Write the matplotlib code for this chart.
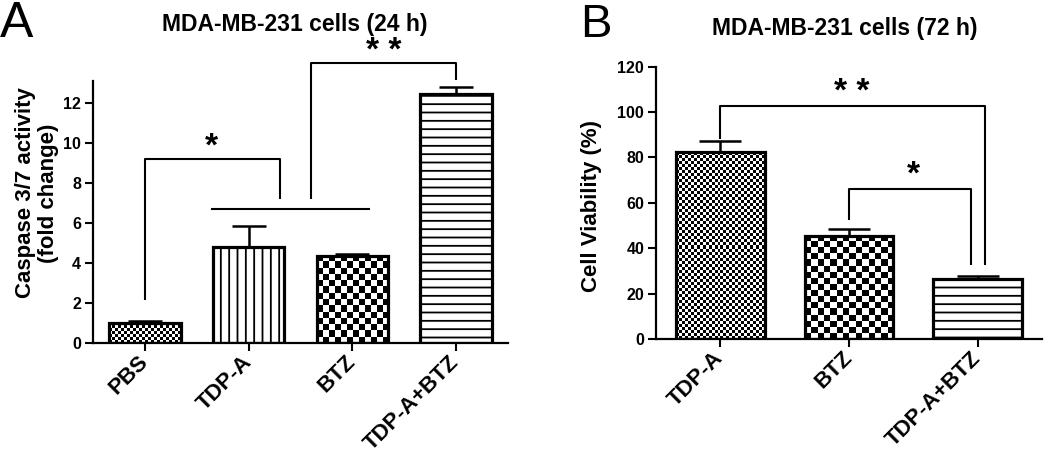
import numpy as np
import matplotlib
matplotlib.use("Agg")
import matplotlib.pyplot as plt

# Panel A - caspase 3/7 activity after 24 h
groups_a = ["PBS", "TDP-A", "BTZ", "TDP-A+BTZ"]
caspase = [1.0, 4.8, 4.35, 12.45]
caspase_err = [0.1, 1.07, 0.1, 0.35]
fills_a = ["fine", "||", "coarse", "--"]

# Panel B - cell viability after 72 h
groups_b = ["TDP-A", "BTZ", "TDP-A+BTZ"]
viability = [82.2, 45.5, 26.4]
viability_err = [4.9, 2.8, 1.3]
fills_b = ["fine", "coarse", "--"]

# significance brackets: (x points, y points), star label position and text
brackets_a = [
    ([0, 0, 1.30, 1.30], [2.15, 9.2, 9.2, 7.2]),
    ([0.64, 2.17], [6.7, 6.7]),
    ([1.6, 1.6, 3.0, 3.0], [7.2, 14.0, 14.0, 13.15]),
]
stars_a = [(0.64, 9.8, "*"), (2.3, 14.55, "* *")]

brackets_b = [
    ([0, 0, 2.06, 2.06], [88.3, 102.8, 102.8, 32.6]),
    ([1.0, 1.0, 1.95, 1.95], [52.4, 66.2, 66.2, 32.6]),
]
stars_b = [(1.02, 108.7, "* *"), (1.5, 72.2, "*")]

plt.rcParams["font.family"] = ["Liberation Sans", "DejaVu Sans"]
plt.rcParams["hatch.linewidth"] = 1.3
plt.rcParams["hatch.color"] = "black"

CELL = {"fine": 3.0, "coarse": 6.2}


def checker_fill(ax, bar, cell):
    """Wypełnia słupek szachownicą o boku pola `cell` pikseli."""
    x0, w, h = bar.get_x(), bar.get_width(), bar.get_height()
    p0 = ax.transData.transform((x0, 0))
    p1 = ax.transData.transform((x0 + w, h))
    nx = max(1, int(round((p1[0] - p0[0]) / cell)))
    ny = max(1, int(round((p1[1] - p0[1]) / cell)))
    grid = np.add.outer(np.arange(ny), np.arange(nx)) % 2
    im = ax.imshow(grid, cmap="gray", vmin=0, vmax=1, extent=[x0, x0 + w, 0, h],
                   aspect="auto", interpolation="nearest", zorder=2)
    im.set_clip_path(bar)


def draw_panel(ax, labels, values, errors, fills, ylim, yticks, capsize):
    x = np.arange(len(labels))
    ax.set_xlim(-0.5, len(labels) - 0.5)
    ax.set_ylim(*ylim)

    hatches = [f if f not in CELL else None for f in fills]
    bars = ax.bar(x, values, width=0.69, color="white", edgecolor="black",
                  linewidth=0, zorder=1)
    for bar, h in zip(bars, hatches):
        if h:
            bar.set_hatch(h)
    for bar, f in zip(bars, fills):
        if f in CELL:
            checker_fill(ax, bar, CELL[f])
    # obrys słupków na wierzchu
    ax.bar(x, values, width=0.69, facecolor="none", edgecolor="black",
           linewidth=2.3, zorder=3)
    ax.errorbar(x, values, yerr=[np.zeros(len(values)), errors], fmt="none",
                ecolor="black", elinewidth=1.8, capsize=capsize, capthick=1.8,
                zorder=3)

    ax.set_xlim(-0.5, len(labels) - 0.5)
    ax.set_ylim(*ylim)
    ax.set_yticks(yticks)
    ax.set_xticks(x)
    ax.set_xticklabels(labels, rotation=45, ha="right", va="center",
                       rotation_mode="anchor", fontsize=16, fontweight="bold")
    for t in ax.get_yticklabels():
        t.set_fontweight("bold")
        t.set_fontsize(11.5)
    ax.tick_params(axis="both", direction="out", length=5.5, width=1.5, pad=3)
    ax.tick_params(axis="x", pad=6)
    for side in ["top", "right"]:
        ax.spines[side].set_visible(False)
    for side in ["left", "bottom"]:
        ax.spines[side].set_linewidth(1.6)


def draw_brackets(ax, brackets, stars):
    for xs, ys in brackets:
        ax.plot(xs, ys, color="black", linewidth=1.5, clip_on=False, zorder=4,
                solid_capstyle="butt")
    for sx, sy, s in stars:
        ax.text(sx, sy, s, ha="center", va="center", fontsize=24,
                fontweight="bold", clip_on=False)


fig = plt.figure(figsize=(10.5, 4.54), dpi=100)

ax_a = fig.add_axes([0.0886, 0.2445, 0.3952, 0.5771])
draw_panel(ax_a, groups_a, caspase, caspase_err, fills_a, (0, 13.1),
           range(0, 13, 2), 12.5)
draw_brackets(ax_a, brackets_a, stars_a)

ax_b = fig.add_axes([0.6248, 0.2533, 0.3676, 0.5998])
draw_panel(ax_b, groups_b, viability, viability_err, fills_b, (0, 120),
           range(0, 121, 20), 15)
draw_brackets(ax_b, brackets_b, stars_b)

# podpisy osi i tytuły
fig.text(37 / 1050, 1 - 193 / 454, "Caspase 3/7 activity\n(fold change)",
         rotation=90, ha="center", va="center", multialignment="center",
         fontsize=16, fontweight="bold", linespacing=1.1)
fig.text(592 / 1050, 1 - 206 / 454, "Cell Viability (%)", rotation=90,
         ha="center", va="center", fontsize=16, fontweight="bold")

fig.text(295 / 1050, 1 - 24 / 454, "MDA-MB-231 cells (24 h)", ha="center",
         va="center", fontsize=16.5, fontweight="bold")
fig.text(845 / 1050, 1 - 29 / 454, "MDA-MB-231 cells (72 h)", ha="center",
         va="center", fontsize=16.5, fontweight="bold")

fig.text(0 / 1050, 1 - 37 / 454, "A", ha="left", va="baseline", fontsize=36)
fig.text(580 / 1050, 1 - 37 / 454, "B", ha="left", va="baseline", fontsize=34)

fig.savefig("out.png", dpi=100)
